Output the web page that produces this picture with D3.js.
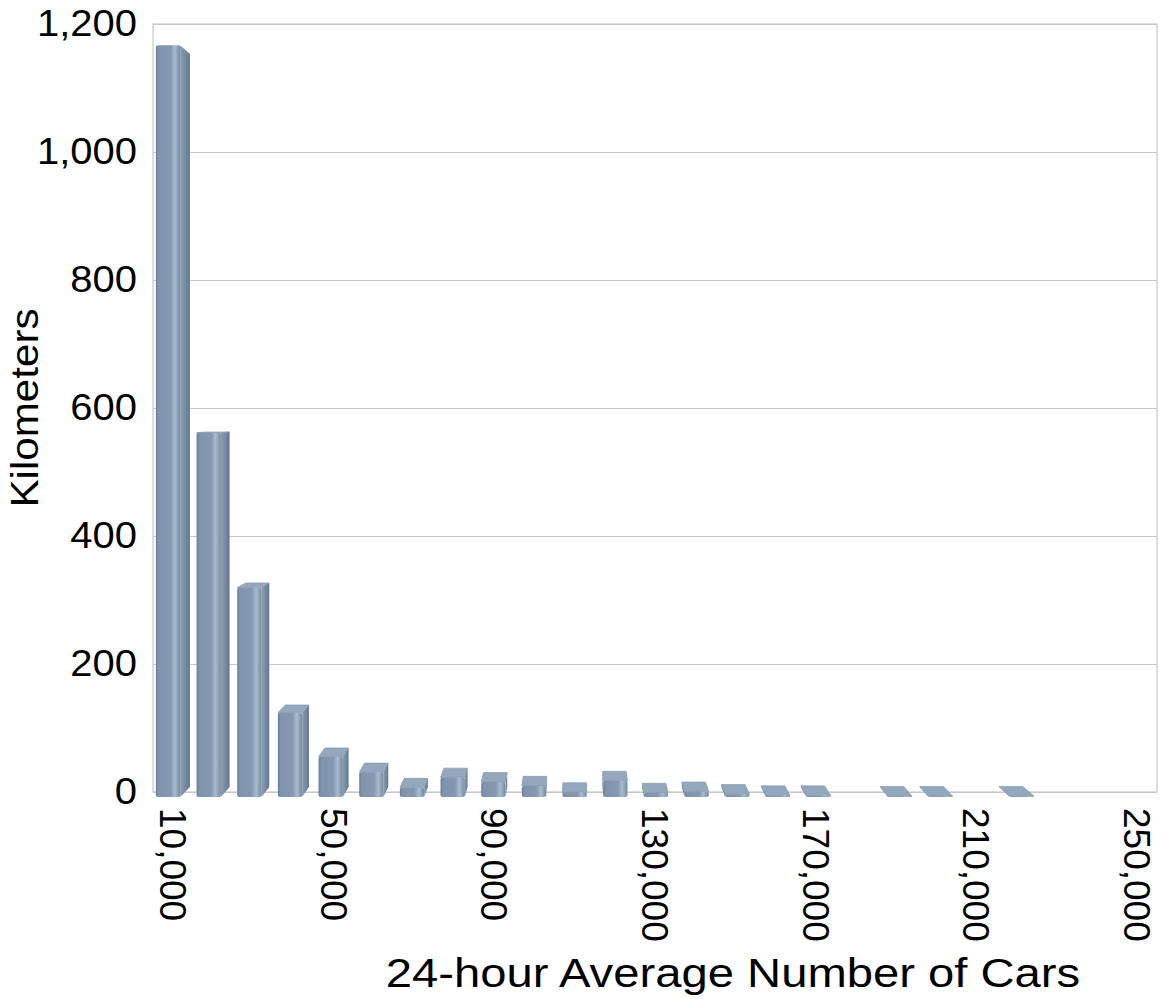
<!DOCTYPE html>
<html>
<head>
<meta charset="utf-8">
<script src="https://cdn.jsdelivr.net/npm/d3@7"></script>
<style>
  body { margin: 0; background: #fff; }
  svg { display: block; }
  text { font-family: "Liberation Sans", Arial, sans-serif; fill: #000; }
</style>
</head>
<body>
<div id="chart"></div>
<script>
// data
var categories = [10000, 20000, 30000, 40000, 50000, 60000, 70000, 80000, 90000, 100000,
                  110000, 120000, 130000, 140000, 150000, 160000, 170000, 180000, 190000, 200000,
                  210000, 220000, 230000, 240000, 250000];
var kilometers = [1160, 562, 323, 130, 62, 38, 14, 30, 23, 17,
                  7, 25, 6, 8, 4, 2, 2, 0, 1, 1,
                  0, 1, 0, 0, 0];
var yTicks = [0, 200, 400, 600, 800, 1000, 1200];
var xTickLabels = [10000, 50000, 90000, 130000, 170000, 210000, 250000];

var margin = {top: 24, right: 5, bottom: 207, left: 153};
var width = 1162 - margin.left - margin.right;
var height = 999 - margin.top - margin.bottom;

var svgRoot = d3.select("#chart")
  .append("svg")
  .attr("width", 1162)
  .attr("height", 999);

// gradients for the pseudo 3d columns
var defs = svgRoot.append("defs");
var fg = defs.append("linearGradient").attr("id", "frontGrad")
  .attr("x1", "0").attr("x2", "1").attr("y1", "0").attr("y2", "0");
[[0, "#697c95"], [0.1, "#7f93ac"], [0.6, "#8498b1"], [0.78, "#a8bbcf"], [0.9, "#8da1b8"], [1, "#74889f"]]
  .forEach(function(s) { fg.append("stop").attr("offset", s[0]).attr("stop-color", s[1]); });
var sg = defs.append("linearGradient").attr("id", "sideGrad")
  .attr("x1", "0").attr("x2", "1").attr("y1", "0").attr("y2", "0");
[[0, "#8a9eb5"], [1, "#64778e"]]
  .forEach(function(s) { sg.append("stop").attr("offset", s[0]).attr("stop-color", s[1]); });

var svg = svgRoot.append("g")
  .attr("transform", "translate(" + margin.left + "," + margin.top + ")");

var x = d3.scaleBand()
  .domain(categories)
  .range([0, width])
  .padding(0);

var y = d3.scaleLinear()
  .domain([0, 1200])
  .range([height, 0]);

// grid + y labels
var yAxis = svg.append("g")
  .call(d3.axisLeft(y).tickValues(yTicks).tickSize(-width).tickPadding(16).tickFormat(d3.format(",")));
yAxis.select(".domain").remove();
yAxis.selectAll("line").attr("stroke", "#c8c8c8").attr("stroke-width", 1.2);
yAxis.selectAll("text")
  .attr("font-size", 36)
  .attr("fill", "#000")
  .style("font-family", "'Liberation Sans', Arial, sans-serif")
  .attr("textLength", function() { return this.getComputedTextLength() * 1.11; })
  .attr("lengthAdjust", "spacingAndGlyphs");

// plot border
svg.append("rect")
  .attr("x", 0).attr("y", 0)
  .attr("width", width).attr("height", height)
  .attr("fill", "none")
  .attr("stroke", "#c8c8c8")
  .attr("stroke-width", 1.2);

// perspective: back face pulled toward a vanishing point, front pushed away
var vp = [575 - margin.left, 400 - margin.top];
var k = 0.0125;
function proj(px, py, s) {
  return [px + s * k * (vp[0] - px), py + s * k * (vp[1] - py)];
}
function pts(a) { return a.map(function(p) { return p[0] + "," + p[1]; }).join(" "); }

var half = 12;
var bars = svg.selectAll(".bar")
  .data(categories.map(function(c, i) { return {cat: c, val: kilometers[i]}; })
    .filter(function(d) { return d.val > 0; }))
  .enter()
  .append("g")
  .attr("class", "bar");

bars.each(function(d) {
  var g = d3.select(this);
  var cx = x(d.cat) + x.bandwidth() / 2;
  var x0 = cx - half, x1 = cx + half;
  var yt = y(d.val), yb = y(0);
  var FTL = proj(x0, yt, -1), FTR = proj(x1, yt, -1), FBL = proj(x0, yb, -1), FBR = proj(x1, yb, -1);
  var BTL = proj(x0, yt, 1), BTR = proj(x1, yt, 1), BBL = proj(x0, yb, 1), BBR = proj(x1, yb, 1);

  if (BTR[0] > FTR[0]) {
    g.append("polygon").attr("points", pts([FTR, BTR, BBR, FBR]))
      .attr("fill", "url(#sideGrad)");
  } else {
    g.append("polygon").attr("points", pts([FTL, BTL, BBL, FBL]))
      .attr("fill", "#6f839b");
  }
  if (BTL[1] < FTL[1]) {
    g.append("polygon").attr("points", pts([FTL, FTR, BTR, BTL]))
      .attr("fill", "#93a7bd")
      .attr("stroke", "#7d91a9").attr("stroke-width", 0.6);
  }
  g.append("rect")
    .attr("x", FTL[0])
    .attr("y", FTL[1])
    .attr("width", FTR[0] - FTL[0])
    .attr("height", Math.max(FBL[1] - FTL[1], 0.5))
    .attr("rx", 2)
    .attr("fill", "url(#frontGrad)");
});

// x labels
var xAxis = svg.append("g")
  .attr("transform", "translate(0," + height + ")")
  .call(d3.axisBottom(x).tickValues(xTickLabels).tickSize(0).tickFormat(d3.format(",")));
xAxis.select(".domain").remove();
xAxis.selectAll("text")
  .attr("font-size", 37)
  .attr("fill", "#000")
  .style("font-family", "'Liberation Sans', Arial, sans-serif")
  .attr("transform", "rotate(90)")
  .attr("x", 16)
  .attr("y", 0)
  .attr("dy", "0.35em")
  .style("text-anchor", "start");

// axis titles
svgRoot.append("text")
  .attr("transform", "translate(38,408) rotate(-90)")
  .attr("text-anchor", "middle")
  .attr("font-size", 38)
  .text("Kilometers")
  .attr("textLength", function() { return this.getComputedTextLength() * 1.11; })
  .attr("lengthAdjust", "spacingAndGlyphs");

svgRoot.append("text")
  .attr("x", 733)
  .attr("y", 987)
  .attr("text-anchor", "middle")
  .attr("font-size", 40)
  .text("24-hour Average Number of Cars")
  .attr("textLength", function() { return this.getComputedTextLength() * 1.18; })
  .attr("lengthAdjust", "spacingAndGlyphs");
</script>
</body>
</html>
